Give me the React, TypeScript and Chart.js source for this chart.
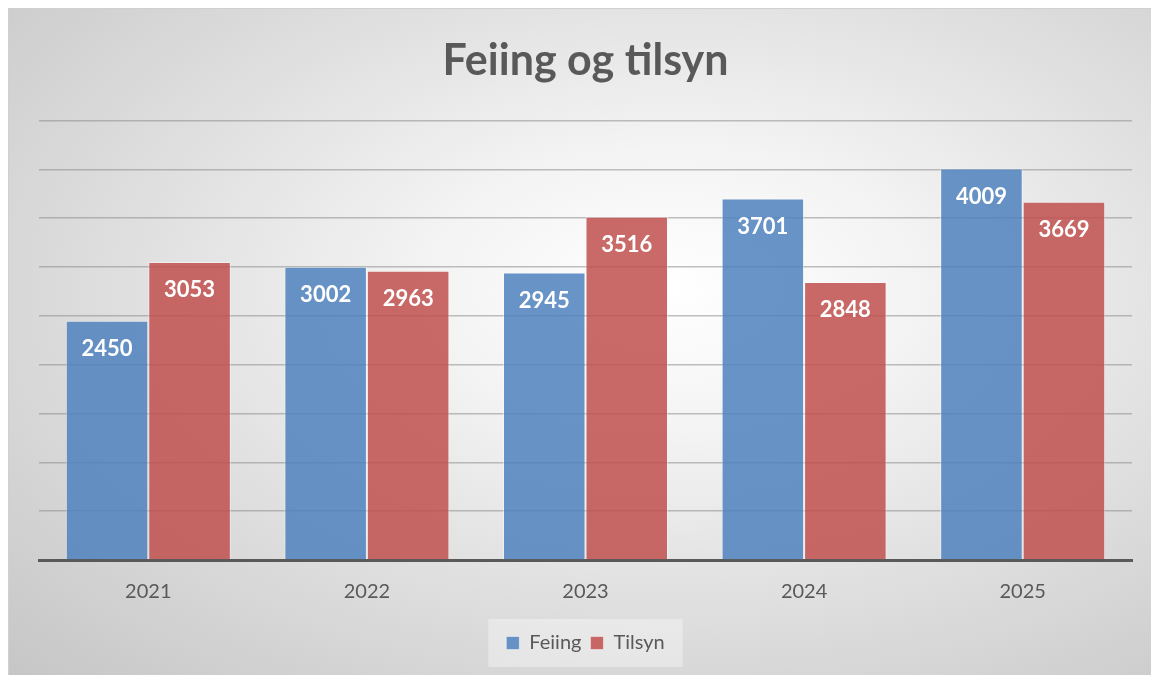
import React, { useEffect, useRef } from "react";
import { Chart, registerables } from "chart.js";

Chart.register(...registerables);

const TITLE = "Feiing og tilsyn";
const categories = ["2021", "2022", "2023", "2024", "2025"];
const feiing = [2450, 3002, 2945, 3701, 4009];
const tilsyn = [3053, 2963, 3516, 2848, 3669];
const seriesNames = ["Feiing", "Tilsyn"];

const FONT = "Lato, 'Open Sans', sans-serif";

const labelPlugin = {
  id: "barLabels",
  afterDatasetsDraw(chart: any) {
    const ctx = chart.ctx;
    ctx.save();
    ctx.fillStyle = "#ffffff";
    ctx.font = `bold 22px ${FONT}`;
    ctx.textAlign = "center";
    ctx.textBaseline = "middle";
    chart.data.datasets.forEach((ds: any, i: number) => {
      const meta = chart.getDatasetMeta(i);
      meta.data.forEach((bar: any, j: number) => {
        ctx.fillText(String(ds.data[j]), bar.x, bar.y + 28);
      });
    });
    ctx.restore();
  },
};

const legendBgPlugin = {
  id: "legendBg",
  beforeDraw(chart: any) {
    const lg = chart.legend;
    if (!lg || !lg.legendHitBoxes || !lg.legendHitBoxes.length) return;
    const boxes = lg.legendHitBoxes;
    let l = Infinity, r = -Infinity, t = Infinity, b = -Infinity;
    boxes.forEach((h: any) => {
      l = Math.min(l, h.left);
      r = Math.max(r, h.left + h.width);
      t = Math.min(t, h.top);
      b = Math.max(b, h.top + h.height);
    });
    const ctx = chart.ctx;
    ctx.save();
    ctx.fillStyle = "rgba(255,255,255,0.35)";
    ctx.fillRect(l - 18, t - 14, r - l + 36, b - t + 28);
    ctx.restore();
  },
};

export default function App() {
  const ref = useRef<HTMLCanvasElement>(null);
  useEffect(() => {
    if (!ref.current) return;
    const chart = new Chart(ref.current, {
      type: "bar",
      data: {
        labels: categories,
        datasets: [
          {
            label: seriesNames[0],
            data: feiing,
            backgroundColor: "rgba(79,129,189,0.85)",
            borderColor: "rgba(255,255,255,0.45)",
            borderWidth: 1,
            categoryPercentage: 0.755,
            barPercentage: 1,
          },
          {
            label: seriesNames[1],
            data: tilsyn,
            backgroundColor: "rgba(192,80,77,0.85)",
            borderColor: "rgba(255,255,255,0.45)",
            borderWidth: 1,
            categoryPercentage: 0.755,
            barPercentage: 1,
          },
        ],
      },
      options: {
        animation: false,
        responsive: false,
        maintainAspectRatio: false,
        layout: { padding: { left: 30, right: 19, top: 0, bottom: 12 } },
        plugins: {
          title: {
            display: true,
            text: TITLE,
            color: "#595959",
            font: { family: FONT, size: 43, weight: "bold" },
            padding: { top: 26, bottom: 34 },
          },
          legend: {
            position: "bottom",
            labels: {
              color: "#595959",
              font: { family: FONT, size: 20 },
              boxWidth: 13,
              boxHeight: 13,
              padding: 9,
            },
          },
          tooltip: { enabled: false },
        },
        scales: {
          x: {
            grid: { display: false, drawTicks: false },
            border: { display: true, color: "#595959", width: 3 },
            ticks: { color: "#595959", font: { family: FONT, size: 20 }, padding: 20 },
          },
          y: {
            min: 0,
            max: 4500,
            ticks: { display: false, stepSize: 500 },
            grid: { color: "rgba(140,140,140,0.55)", lineWidth: 1.5, drawTicks: false },
            border: { display: false },
          },
        },
      },
      plugins: [labelPlugin, legendBgPlugin],
    });
    return () => chart.destroy();
  }, []);

  return (
    <div
      style={{
        position: "fixed",
        left: 8,
        top: 8,
        width: 1143,
        height: 667,
        boxSizing: "border-box",
        borderTop: "1px solid #d0d0d0",
        borderLeft: "1px solid #d0d0d0",
        background:
          "radial-gradient(ellipse farthest-corner at 58% 42%, #ffffff 0%, #f4f4f4 25%, #dedede 60%, #c6c6c6 100%)",
      }}
    >
      <canvas ref={ref} width={1142} height={666} style={{ display: "block" }} />
    </div>
  );
}
